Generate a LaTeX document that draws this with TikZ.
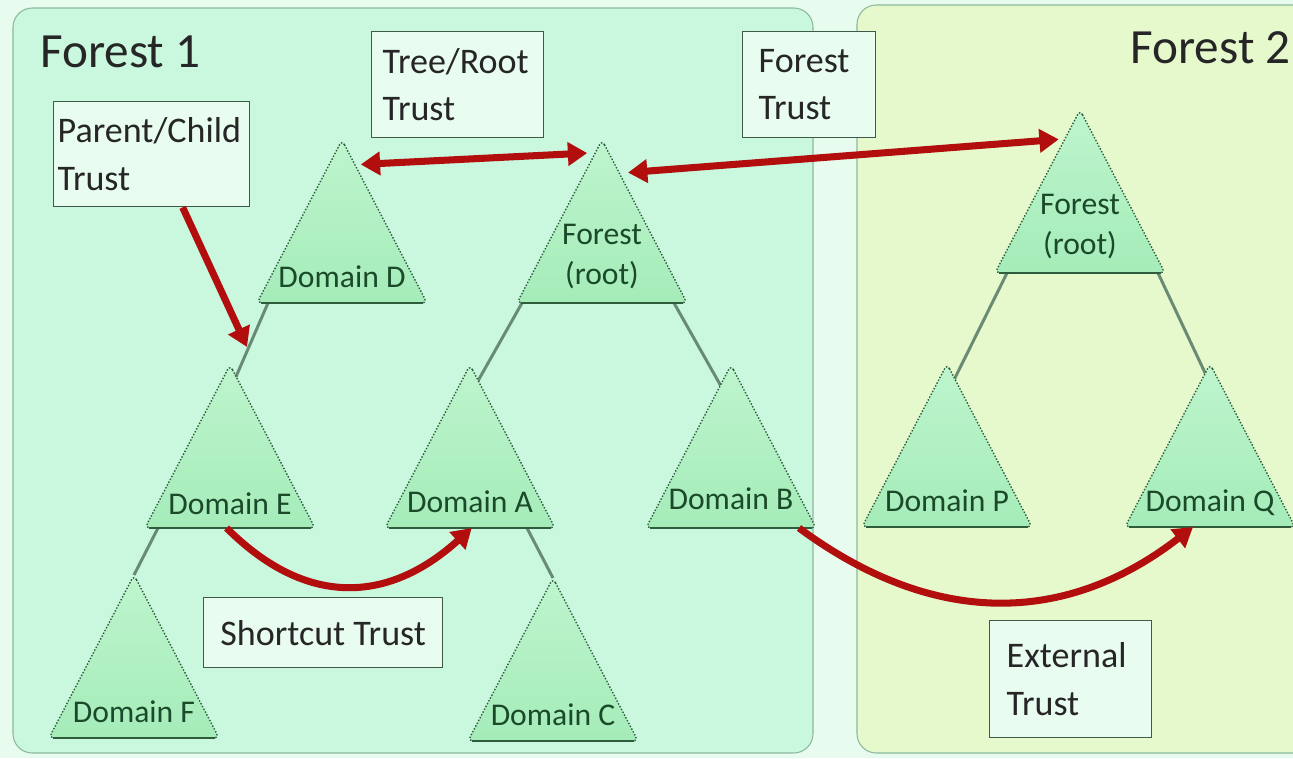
\documentclass[tikz,border=0pt]{standalone}
\usepackage{fontspec}
\setmainfont{Carlito}
\usetikzlibrary{arrows.meta, positioning, calc, backgrounds}

\definecolor{bgpale}{HTML}{E8FBEF}
\definecolor{forestA}{HTML}{C9F8DE}
\definecolor{forestB}{HTML}{E5F9CD}
\definecolor{forestedge}{HTML}{8DB89B}
\definecolor{tritop}{HTML}{BEF5CD}
\definecolor{tribot}{HTML}{A5ECB9}
\definecolor{triedge}{HTML}{2E5C3C}
\definecolor{treeline}{HTML}{6A8B73}
\definecolor{trustred}{HTML}{B20E0E}
\definecolor{notefill}{HTML}{E9FCF0}
\definecolor{noteedge}{HTML}{3E5A48}
\definecolor{domtext}{HTML}{1A4A29}

\begin{document}
\begin{tikzpicture}[x=0.02cm, y=-0.02cm,
    forest/.style={fill=#1, draw=forestedge, line width=0.6pt, rounded corners=11pt},
    title/.style={font=\fontsize{28}{32}\selectfont, text=black!85, inner sep=0pt},
    tri/.style={top color=tritop, bottom color=tribot, draw=triedge, densely dotted, line width=0.8pt, rounded corners=3pt},
    triBase/.style={draw=triedge, line width=1.5pt, shorten >=2.5pt, shorten <=2.5pt},
    dom/.style={font=\fontsize{18}{22.7}\selectfont, text=domtext, align=flush center, inner sep=0pt, text depth=0pt},
    note/.style 2 args={draw=noteedge, line width=0.8pt, fill=notefill, anchor=north west, align=flush left,
        text width=#1, minimum height=#2, font=\fontsize{20.5}{27}\selectfont, text=black!85},
    branch/.style={draw=treeline, line width=1.7pt},
    trust/.style={draw=trustred, line width=4pt, -{Triangle[length=11pt, width=13pt]}},
    twoway/.style={trust, {Triangle[length=11pt, width=13pt]}-{Triangle[length=11pt, width=13pt]}}
]

\useasboundingbox (0,0) rectangle (1293,758);

% Forests
\begin{pgfonlayer}{background}
\fill[bgpale] (0,0) rectangle (1293,758);
\draw[forest=forestA] (13,8) rectangle (813,753);
\path[forest=forestB] (1293,5) -- (857,5) -- (857,753) -- (1293,753);
\end{pgfonlayer}

\node[title, anchor=base west] (forest1) at (40,67) {Forest 1};
\node[title, anchor=base east] (forest2) at (1291,63) {Forest 2};

% Domains of forest 1
\draw[tri] (342,140) coordinate (D-top) -- ++(85,163) coordinate (D-br) -- ++(-170,0) coordinate (D-bl) -- cycle;
\draw[triBase] (D-bl) -- node[dom, above=8pt] (D) {Domain D} (D-br);
\draw[tri] (602,140) coordinate (R1-top) -- ++(85,163) coordinate (R1-br) -- ++(-170,0) coordinate (R1-bl) -- cycle;
\draw[triBase] (R1-bl) -- node[dom, above=10pt] (R1) {Forest\\(root)} (R1-br);
\draw[tri] (230,365) coordinate (E-top) -- ++(85,163) coordinate (E-br) -- ++(-170,0) coordinate (E-bl) -- cycle;
\draw[triBase] (E-bl) -- node[dom, above=7pt] (E) {Domain E} (E-br);
\draw[tri] (470,365) coordinate (A-top) -- ++(85,163) coordinate (A-br) -- ++(-170,0) coordinate (A-bl) -- cycle;
\draw[triBase] (A-bl) -- node[dom, above=8pt] (A) {Domain A} (A-br);
\draw[tri] (731,365) coordinate (B-top) -- ++(85,163) coordinate (B-br) -- ++(-170,0) coordinate (B-bl) -- cycle;
\draw[triBase] (B-bl) -- node[dom, above=10pt] (B) {Domain B} (B-br);
\draw[tri] (134,575) coordinate (F-top) -- ++(85,163) coordinate (F-br) -- ++(-170,0) coordinate (F-bl) -- cycle;
\draw[triBase] (F-bl) -- node[dom, above=8pt] (F) {Domain F} (F-br);
\draw[tri] (553,578) coordinate (C-top) -- ++(85,163) coordinate (C-br) -- ++(-170,0) coordinate (C-bl) -- cycle;
\draw[triBase] (C-bl) -- node[dom, above=8pt] (C) {Domain C} (C-br);

% Domains of forest 2
\draw[tri] (1080,110) coordinate (R2-top) -- ++(85,163) coordinate (R2-br) -- ++(-170,0) coordinate (R2-bl) -- cycle;
\draw[triBase] (R2-bl) -- node[dom, above=10pt] (R2) {Forest\\(root)} (R2-br);
\draw[tri] (947,364) coordinate (P-top) -- ++(85,163) coordinate (P-br) -- ++(-170,0) coordinate (P-bl) -- cycle;
\draw[triBase] (P-bl) -- node[dom, above=8pt] (P) {Domain P} (P-br);
\draw[tri] (1210,364) coordinate (Q-top) -- ++(85,163) coordinate (Q-br) -- ++(-170,0) coordinate (Q-bl) -- cycle;
\draw[triBase] (Q-bl) -- node[dom, above=8pt] (Q) {Domain Q} (Q-br);

% Tree branches (behind the domains)
\begin{pgfonlayer}{background}
\draw[branch] ($(D-bl)+(11,0)$) -- ($(E-top)+(-2,30)$);
\draw[branch] ($(R1-bl)+(5,0)$) -- ($(A-top)+(0,30)$);
\draw[branch] ($(R1-br)+(-13,0)$) -- ($(B-top)+(-5,30)$);
\draw[branch] ($(E-bl)+(13,0)$) -- (F-top);
\draw[branch] ($(A-br)+(-28,0)$) -- (C-top);
\draw[branch] ($(R2-bl)+(12,0)$) -- ($(P-top)+(0,30)$);
\draw[branch] ($(R2-br)+(-7,0)$) -- ($(Q-top)+(5,30)$);
\end{pgfonlayer}

% Labels
\node[note={3.76cm}{2.1cm}, inner xsep=0.08cm] (pc) at (53,101) {Parent/Child\\Trust};
\node[note={3.0cm}{2.12cm}, inner xsep=0.22cm] (tr) at (371,31) {Tree/Root\\Trust};
\node[note={2.02cm}{2.12cm}, inner xsep=0.32cm] (ft) at (742,31) {Forest\\Trust};
\node[note={4.22cm}{1.4cm}, inner xsep=0.28cm, align=flush center] (sc) at (203,597) {Shortcut Trust};
\node[note={2.56cm}{2.34cm}, inner xsep=0.34cm] (ex) at (989,620) {External\\Trust};

% Trusts
\draw[trust] ([xshift=0.62cm]pc.south) -- ($(E-top)+(17,-18)$);
\draw[twoway] ($(D-top)!0.15!(D-br)+(6,0)$) -- ($(R1-top)!0.08!(R1-bl)+(-8,0)$);
\draw[twoway] ($(R1-top)!0.2!(R1-br)+(9,0)$) -- ($(R2-top)!0.18!(R2-bl)+(-6,0)$);
\draw[trust] ($(E-bl)!0.48!(E-br)$) .. controls +(79,79) and +(-84,76) .. ($(A-bl)!0.51!(A-br)$);
\draw[trust] ($(B-bl)!0.9!(B-br)$) .. controls +(134,99) and +(-128,99) .. ($(Q-bl)!0.4!(Q-br)$);

\end{tikzpicture}
\end{document}
